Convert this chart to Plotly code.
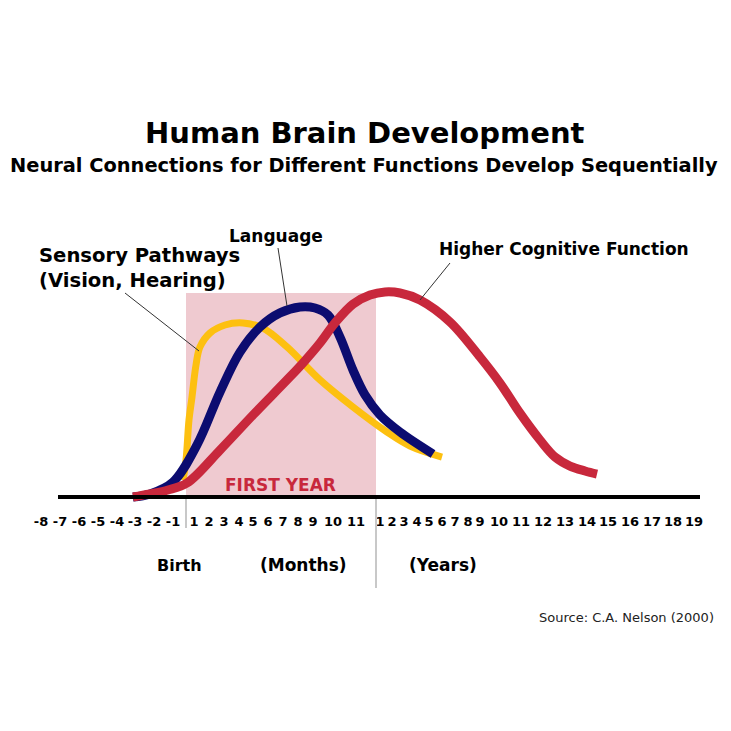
import plotly.graph_objects as go

W = H = 731
FONT = "DejaVu Sans"

# ---- tick labels along the timeline and their positions (timeline units) ----
TICK_TEXT = ["-8", "-7", "-6", "-5", "-4", "-3", "-2", "-1",
             "1", "2", "3", "4", "5", "6", "7", "8", "9", "10", "11",
             "1", "2", "3", "4", "5", "6", "7", "8", "9", "10",
             "11", "12", "13", "14", "15", "16", "17", "18", "19"]
TICK_POS = [41, 60, 79, 98, 117, 135, 154, 173,
            194, 209, 224, 239, 253, 268, 283, 298, 313, 333, 356,
            380, 392, 404, 417, 429, 442, 455, 468, 480, 499,
            521, 543, 565, 587, 608, 630, 652, 673, 694]

# ---- series (timeline position, relative development 0-100) ----
sensory_x = [183, 186, 189, 192, 196, 200, 210, 225, 243, 263, 287, 320, 353, 387, 410, 442]
sensory_y = [8.3, 18.0, 37.6, 48.8, 64.4, 73.2, 80.0, 83.9, 84.9, 82.4, 73.2, 57.1, 43.9, 31.7, 24.9, 19.5]

language_x = [133, 150, 173, 197, 220, 240, 260, 280, 300, 315, 328, 340, 353, 365, 380, 400, 433]
language_y = [0.0, 1.5, 7.3, 25.4, 51.2, 70.7, 82.9, 89.8, 92.7, 92.2, 88.8, 78.0, 61.9, 49.8, 40.0, 31.7, 21.0]

cognitive_x = [133, 150, 168, 187, 220, 253, 287, 303, 320, 335, 353, 370, 385, 400, 420, 450,
               480, 500, 520, 540, 555, 570, 585, 597]
cognitive_y = [0.0, 1.5, 3.4, 6.8, 22.9, 40.0, 57.1, 65.4, 75.1, 84.9, 94.1, 98.5, 100.0, 99.5,
               96.1, 85.4, 68.3, 55.6, 40.9, 27.8, 19.5, 15.1, 12.7, 11.2]

first_year = [186, 376]   # timeline span of the first year
axis_span = [58, 700]

# ---- pixel helpers for layout (page pixels; page body has an 8px offset) ----
OFF = 8
SCALE = 2.05          # px per y unit
BASE_PX = 497         # baseline pixel row (page)
PLOT_BOTTOM = 512     # page row of plot-area bottom
def px(x):
    return (x - OFF) / W
def py(y):
    return 1 - (y - OFF) / H
def ydat(p):
    return (BASE_PX - p) / SCALE

fig = go.Figure()
fig.add_trace(go.Scatter(x=sensory_x, y=sensory_y, mode="lines", line=dict(color="#FDC010", width=7, shape="spline"),
                         name="Sensory Pathways", hoverinfo="skip"))
fig.add_trace(go.Scatter(x=language_x, y=language_y, mode="lines", line=dict(color="#0C0C70", width=9, shape="spline"),
                         name="Language", hoverinfo="skip"))
fig.add_trace(go.Scatter(x=cognitive_x, y=cognitive_y, mode="lines", line=dict(color="#C8283C", width=9, shape="spline"),
                         name="Higher Cognitive Function", hoverinfo="skip"))

shapes = [
    dict(type="rect", xref="x", yref="y", x0=first_year[0], x1=first_year[1], y0=0, y1=ydat(293),
         fillcolor="#EFCAD0", line=dict(width=0), layer="below"),
    dict(type="line", xref="x", yref="y", x0=axis_span[0], x1=axis_span[1], y0=0, y1=0,
         line=dict(color="black", width=4), layer="above"),
    dict(type="line", xref="paper", yref="paper", x0=px(first_year[0]), x1=px(first_year[0]),
         y0=py(528), y1=py(499), line=dict(color="#C8C8C8", width=2)),
    dict(type="line", xref="paper", yref="paper", x0=px(first_year[1]), x1=px(first_year[1]),
         y0=py(588), y1=py(499), line=dict(color="#C8C8C8", width=2)),
    # leader lines
    dict(type="line", xref="paper", yref="paper", x0=px(125), y0=py(293), x1=px(199), y1=py(351),
         line=dict(color="#333333", width=1)),
    dict(type="line", xref="paper", yref="paper", x0=px(278), y0=py(248), x1=px(287), y1=py(306),
         line=dict(color="#333333", width=1)),
    dict(type="line", xref="paper", yref="paper", x0=px(450), y0=py(263), x1=px(420), y1=py(300),
         line=dict(color="#333333", width=1)),
]

def ann(text, x, y, size, xanchor="center", color="black", bold=True, align="center"):
    return dict(text=text, x=px(x), y=py(y), xref="paper", yref="paper", showarrow=False,
                xanchor=xanchor, yanchor="middle", align=align,
                font=dict(family=FONT, size=size, color=color, weight="bold" if bold else "normal"))

annotations = [
    ann("Human Brain Development", 365, 133, 29),
    ann("Neural Connections for Different Functions Develop Sequentially", 364, 165, 19.4),
    ann("Sensory Pathways<br>(Vision, Hearing)", 37, 268, 19.6, xanchor="left", align="left"),
    ann("Language", 276, 236, 17),
    ann("Higher Cognitive Function", 437, 249, 17, xanchor="left"),
    ann("FIRST YEAR", 280, 485, 17, color="#C8283C"),
    ann("Birth", 179, 565, 16),
    ann("(Months)", 303, 565, 17),
    ann("(Years)", 443, 565, 17),
    ann("Source: C.A. Nelson (2000)", 716, 617, 13, xanchor="right", color="#222222", bold=False),
]

fig.update_layout(
    width=W, height=H,
    margin=dict(l=0, r=0, t=0, b=0),
    paper_bgcolor="white", plot_bgcolor="white",
    showlegend=False,
    shapes=shapes,
    annotations=annotations,
    xaxis=dict(range=[OFF, W + OFF], domain=[0, 1], showgrid=False, zeroline=False, showline=False,
               tickmode="array", tickvals=TICK_POS, ticktext=TICK_TEXT, ticks="",
               tickangle=0,
               tickfont=dict(family=FONT, size=13, color="black", weight="bold")),
    yaxis=dict(range=[ydat(PLOT_BOTTOM), ydat(OFF)], domain=[1 - (PLOT_BOTTOM - OFF) / H, 1],
               visible=False, showgrid=False, zeroline=False),
)

fig.write_html("out.html")
